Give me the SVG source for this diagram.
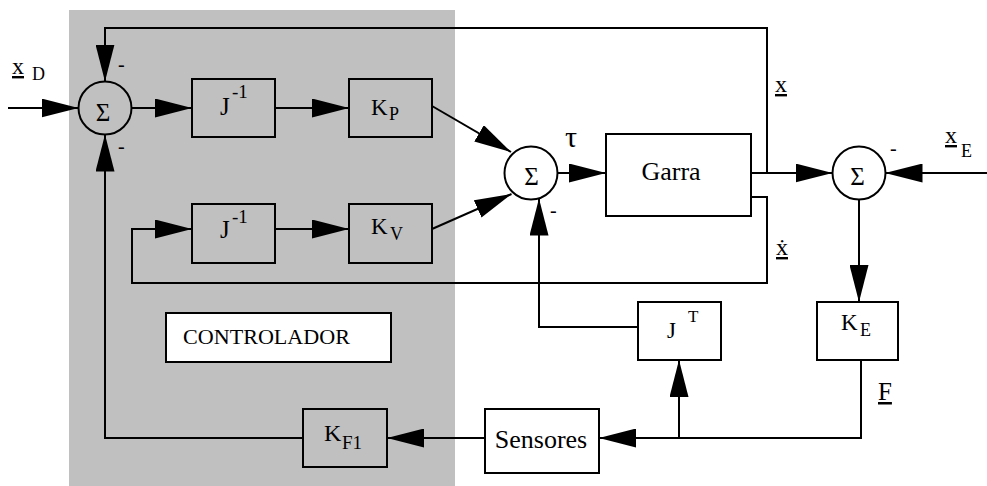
<svg xmlns="http://www.w3.org/2000/svg" width="987" height="486" viewBox="0 0 987 486" style="font-family: 'Liberation Serif', 'Times New Roman', Times, 'DejaVu Serif', serif">
<defs>
<marker id="ah" markerUnits="userSpaceOnUse" markerWidth="37" markerHeight="19" viewBox="0 0 37 19" refX="37" refY="9.5" orient="auto"><path d="M0,0 L37,9.5 L0,19 z" fill="#000"/></marker>
</defs>
<style>
.bx{fill:none;stroke:#000;stroke-width:2}
.wb{fill:#fff;stroke:#000;stroke-width:2}
.ln{fill:none;stroke:#000;stroke-width:2}
.ar{marker-end:url(#ah)}
.u{text-decoration:underline}
</style>
<rect id="controller-area" x="69" y="10" width="386" height="476" fill="#c0c0c0"/>
<g id="connectors">
<path class="ln ar" d="M8,108 H78.5"/>
<path class="ln ar" d="M131.5,108 H192"/>
<path class="ln ar" d="M275,108 H349"/>
<path class="ln ar" d="M432,106 L511,152"/>
<path class="ln ar" d="M432,229 L511.5,194"/>
<path class="ln ar" d="M557.5,173 H606"/>
<path class="ln ar" d="M751,173 H832.5"/>
<path class="ln ar" d="M767,173 V28 H105 V81.5"/>
<path class="ln ar" d="M987,173 H885.5"/>
<path class="ln ar" d="M859,199.5 V302"/>
<path class="ln ar" d="M861,360 V438 H599"/>
<path class="ln ar" d="M679,438 V360"/>
<path class="ln ar" d="M485,438 H387"/>
<path class="ln ar" d="M303,438 H105 V134.5"/>
<path class="ln ar" d="M751,197 H767 V283 H132 V229 H192"/>
<path class="ln ar" d="M638,327 H539 V198.5"/>
<path class="ln ar" d="M275,229 H349"/>
</g>
<g id="sum1">
<circle class="bx" cx="105" cy="108" r="26.5"/>
<text x="103" y="121" font-size="25" text-anchor="middle">Σ</text>
<text x="118" y="71" font-size="20">-</text>
<text x="118" y="153" font-size="20">-</text>
</g>
<g id="jinv1">
<rect class="bx" x="192" y="79" width="83" height="58"/>
<text x="220" y="115" font-size="25">J</text><text x="232" y="98" font-size="19">-1</text>
</g>
<g id="kp">
<rect class="bx" x="349" y="79" width="83" height="58"/>
<text x="371" y="115" font-size="23">K</text><text x="389" y="120" font-size="18">P</text>
</g>
<g id="jinv2">
<rect class="bx" x="192" y="204" width="83" height="59"/>
<text x="220" y="238" font-size="25">J</text><text x="232" y="223" font-size="19">-1</text>
</g>
<g id="kv">
<rect class="bx" x="349" y="204" width="83" height="59"/>
<text x="371" y="234" font-size="23">K</text><text x="390" y="240" font-size="18">V</text>
</g>
<g id="controlador">
<rect class="wb" x="166" y="313" width="225" height="49"/>
<text x="183" y="344" font-size="21" textLength="167" lengthAdjust="spacingAndGlyphs">CONTROLADOR</text>
</g>
<g id="kf1">
<rect class="bx" x="303" y="409" width="84" height="58"/>
<text x="324" y="441" font-size="24">K</text><text x="342" y="449" font-size="19">F1</text>
</g>
<g id="sum2">
<circle class="bx" cx="531" cy="173" r="26.5"/>
<text x="531.5" y="185" font-size="25" text-anchor="middle">Σ</text>
<text x="550" y="217" font-size="20">-</text>
</g>
<g id="tau-label"><text x="565" y="147" font-size="30">τ</text></g>
<g id="garra">
<rect class="bx" x="606" y="134" width="145" height="82"/>
<text x="671" y="180" font-size="26" text-anchor="middle">Garra</text>
</g>
<g id="sum3">
<circle class="bx" cx="859" cy="173" r="26.5"/>
<text x="857.5" y="185" font-size="25" text-anchor="middle">Σ</text>
<text x="890" y="155" font-size="20">-</text>
</g>
<g id="jt">
<rect class="bx" x="638" y="302" width="83" height="58"/>
<text x="667" y="338" font-size="23">J</text><text x="688" y="322" font-size="17">T</text>
</g>
<g id="ke">
<rect class="bx" x="817" y="302" width="81" height="58"/>
<text x="841" y="330" font-size="23">K</text><text x="860" y="336" font-size="18">E</text>
</g>
<g id="sensores">
<rect class="bx" x="485" y="409" width="114" height="64"/>
<text x="541" y="448" font-size="26" text-anchor="middle">Sensores</text>
</g>
<g id="labels">
<text class="u" x="12" y="74" font-size="24">x</text><text x="32" y="80" font-size="18">D</text>
<text class="u" x="775" y="92" font-size="24">x</text>
<text class="u" x="776" y="255" font-size="24">ẋ</text>
<text class="u" x="945" y="143" font-size="24">x</text><text x="961" y="157" font-size="18">E</text>
<text class="u" x="878" y="400" font-size="25">F</text>
</g>
</svg>
